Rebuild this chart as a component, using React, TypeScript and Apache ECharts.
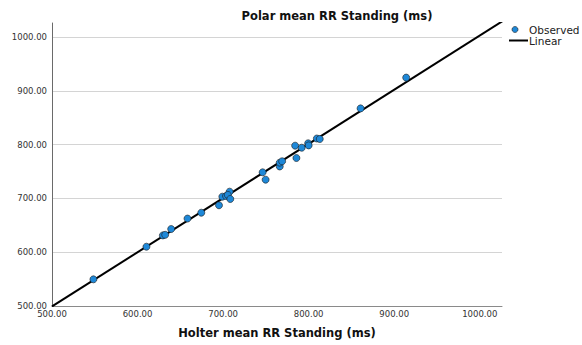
import React, { useEffect, useRef } from "react";
import * as echarts from "echarts";

// Observed points: Holter mean RR Standing (x) vs Polar mean RR Standing (y), ms
const holterValues = [
  548.4, 610.4, 629.6, 632.3, 639.3, 658.4, 674.5, 695.2, 699.1, 703.4, 707.6,
  705.5, 708.4, 746.2, 749.7, 766.2, 766.2, 769.0, 784.2, 785.7, 791.9, 799.4,
  800.0, 809.6, 813.0, 860.7, 914.0,
];
const polarValues = [
  549.6, 610.2, 631.2, 632.3, 643.1, 662.5, 673.4, 687.2, 703.2, 704.5, 712.5,
  706.5, 698.9, 748.5, 734.8, 759.3, 766.4, 769.0, 798.0, 775.1, 794.2, 802.4,
  798.5, 811.3, 810.4, 867.3, 924.5,
];
// Linear fit coefficients (y = intercept + slope * x)
const fitIntercept = -4.3;
const fitSlope = 1.007;
const fitXRange = [500, 1030];

const axisMin = 500;
const axisMax = 1026;
const axisInterval = 100;

const xTitle = "Holter mean RR Standing (ms)";
const yTitle = "Polar mean RR Standing (ms)";
const legendNames = ["Observed", "Linear"];

const FONT = "'DejaVu Sans', Verdana, sans-serif";

export default function App() {
  const ref = useRef<HTMLDivElement>(null);
  useEffect(() => {
    if (!ref.current) return;
    const chart = echarts.init(ref.current, undefined, { renderer: "svg" });
    const points = holterValues.map((x, i) => [x, polarValues[i]]);
    const linePts = fitXRange.map((x) => [x, fitIntercept + fitSlope * x]);
    const fmt = (v: number) => (v % 100 === 0 ? v.toFixed(2) : "");
    chart.setOption({
      animation: false,
      backgroundColor: "#ffffff",
      grid: { left: 52, right: 80, top: 23, bottom: 39, containLabel: false },
      xAxis: {
        type: "value",
        min: axisMin,
        max: axisMax,
        interval: axisInterval,
        name: xTitle,
        nameLocation: "middle",
        nameGap: 21,
        nameTextStyle: { fontFamily: FONT, fontWeight: "bold", fontSize: 11.5, color: "#111" },
        axisLine: { show: true, lineStyle: { color: "#8a8a8a", width: 1 } },
        axisTick: { show: false },
        axisLabel: {
          formatter: fmt,
          showMaxLabel: false,
          margin: 3,
          fontFamily: FONT,
          fontSize: 8.5,
          color: "#333",
        },
        splitLine: { show: false },
      },
      yAxis: {
        type: "value",
        min: axisMin,
        max: axisMax,
        interval: axisInterval,
        axisLine: { show: true, lineStyle: { color: "#6a6a6a", width: 1 } },
        axisTick: { show: false },
        axisLabel: {
          formatter: fmt,
          showMaxLabel: false,
          margin: 5,
          fontFamily: FONT,
          fontSize: 8.5,
          color: "#333",
        },
        splitLine: {
          show: true,
          showMinLine: false,
          showMaxLine: false,
          lineStyle: { color: "#d4d4d4", width: 1 },
        },
      },
      graphic: [
        {
          type: "text",
          x: 337,
          y: 16,
          style: {
            text: yTitle,
            fontFamily: FONT,
            fontWeight: "bold",
            fontSize: 11.5,
            fill: "#111",
            align: "center",
            verticalAlign: "middle",
          },
        },
        {
          type: "circle",
          shape: { cx: 515, cy: 29.5, r: 3 },
          style: { fill: "#1e88d8", stroke: "#1a1a1a", lineWidth: 0.6 },
        },
        {
          type: "text",
          x: 529,
          y: 29.5,
          style: {
            text: legendNames[0],
            fontFamily: FONT,
            fontSize: 10.5,
            fill: "#222",
            verticalAlign: "middle",
          },
        },
        {
          type: "line",
          shape: { x1: 509, y1: 40.5, x2: 528, y2: 40.5 },
          style: { stroke: "#000", lineWidth: 2 },
        },
        {
          type: "text",
          x: 529,
          y: 40.5,
          style: {
            text: legendNames[1],
            fontFamily: FONT,
            fontSize: 10.5,
            fill: "#222",
            verticalAlign: "middle",
          },
        },
      ],
      series: [
        {
          name: legendNames[1],
          type: "line",
          data: linePts,
          showSymbol: false,
          symbol: "none",
          clip: true,
          lineStyle: { color: "#000", width: 2 },
          z: 2,
        },
        {
          name: legendNames[0],
          type: "scatter",
          data: points,
          symbol: "circle",
          symbolSize: 7,
          itemStyle: { color: "#1e88d8", borderColor: "#1a1a1a", borderWidth: 0.6, opacity: 1 },
          z: 3,
        },
      ],
    });
    return () => chart.dispose();
  }, []);
  return (
    <div
      ref={ref}
      style={{ position: "fixed", left: 0, top: 0, width: 582, height: 345 }}
    />
  );
}
